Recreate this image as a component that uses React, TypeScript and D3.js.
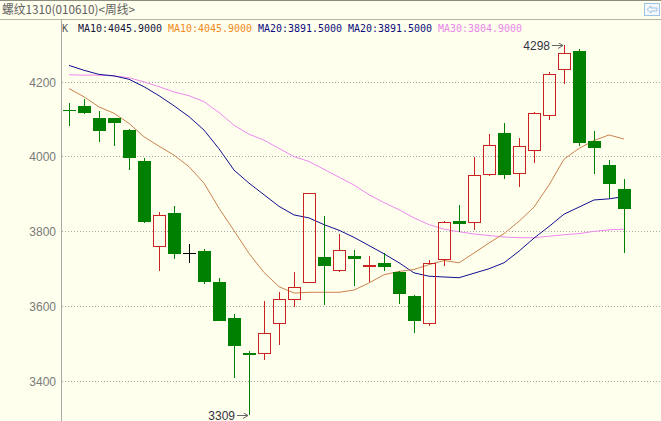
import React from "react";
import * as d3 from "d3";

const openV = [4123,4134,4102,4102,4070,3987,3757,3847,3741,3747,3664,3568,3473,3472,3552,3615,3661,3731,3693,3734,3703,3715,3691,3626,3552,3722,3827,3821,3949,4061,3952,4013,4109,4232,4281,4041,3977,3912];
const highV = [4143,4153,4121,4103,4073,3995,3851,3866,3766,3752,3673,3577,3480,3612,3636,3691,3901,3841,3793,3750,3734,3741,3693,3628,3723,3828,3870,3999,4059,4088,4048,4118,4225,4298,4288,4068,3990,3940];
const lowV = [4081,4112,4039,4027,3963,3822,3692,3725,3715,3657,3558,3408,3309,3455,3494,3597,3660,3602,3690,3652,3663,3692,3606,3528,3547,3707,3796,3804,3948,3938,3917,3981,4097,4192,4027,3952,3888,3741];
const closeV = [4122,4116,4068,4090,3994,3823,3843,3739,3741,3663,3559,3492,3467,3528,3619,3651,3901,3706,3750,3724,3709,3703,3632,3559,3715,3824,3818,3949,4029,3951,4027,4117,4221,4275,4036,4021,3927,3860];

const ma10 = [4181,4159,4132,4115,4088,4052,4027,4003,3972,3928,3861,3801,3740,3689,3651,3634,3636,3636,3636,3642,3661,3683,3692,3697,3710,3721,3715,3741,3768,3793,3826,3864,3923,3992,4021,4042,4057,4046];
const ma20 = [4243,4230,4219,4215,4206,4186,4162,4135,4106,4070,4020,3963,3928,3897,3866,3843,3835,3817,3802,3783,3761,3739,3715,3688,3679,3677,3675,3687,3699,3715,3746,3781,3812,3845,3864,3883,3886,3892];
const ma30 = [4218,4217,4217,4215,4210,4199,4186,4172,4162,4146,4117,4083,4059,4043,4021,3999,3986,3965,3944,3923,3897,3876,3857,3835,3817,3805,3798,3792,3788,3784,3782,3782,3786,3790,3793,3799,3803,3805];

const yTicks = [3400, 3600, 3800, 4000, 4200];

const titleText = "螺纹1310(010610)<周线>";
const legendItems = [
  { label: "MA10:4045.9000", color: "#14143c" },
  { label: "MA10:4045.9000", color: "#f08a1c" },
  { label: "MA20:3891.5000", color: "#0c0c80" },
  { label: "MA20:3891.5000", color: "#0c0c80" },
  { label: "MA30:3804.9000", color: "#e888e8" },
];

const W = 661;
const H = 421;
const RED = "#cc2222";
const GREEN = "#008000";

export default function App() {
  const x = d3.scaleLinear().domain([0, openV.length - 1]).range([69, 624]);
  const y = d3.scaleLinear().domain([3400, 4200]).range([380.5, 81.5]);
  const line = d3
    .line<number>()
    .x((_, i) => x(i))
    .y((v) => y(v));

  const maxIdx = d3.maxIndex(highV);
  const minIdx = d3.minIndex(lowV);

  const candles = openV.map((o, i) => {
    const c = closeV[i];
    const cx = Math.round(x(i));
    const top = Math.round(y(Math.max(o, c)));
    const bot = Math.round(y(Math.min(o, c)));
    const hy = Math.round(y(highV[i]));
    const ly = Math.round(y(lowV[i]));
    if (c > o) {
      return (
        <g key={i}>
          <line x1={cx + 0.5} x2={cx + 0.5} y1={hy} y2={top} stroke={RED} />
          <line x1={cx + 0.5} x2={cx + 0.5} y1={bot} y2={ly} stroke={RED} />
          <rect x={cx - 5.5} y={top + 0.5} width={12} height={Math.max(1, bot - top - 1)} fill="none" stroke={RED} />
        </g>
      );
    }
    const col = c < o ? GREEN : "#000000";
    return (
      <g key={i}>
        <line x1={cx + 0.5} x2={cx + 0.5} y1={hy} y2={ly} stroke={col} />
        <rect x={cx - 6} y={top} width={13} height={Math.max(1, bot - top)} fill={col} />
      </g>
    );
  });

  const hiX = Math.round(x(maxIdx));
  const hiY = Math.round(y(highV[maxIdx]));
  const loX = Math.round(x(minIdx));
  const loY = Math.round(y(lowV[minIdx]));

  return (
    <div style={{ position: "absolute", left: 0, top: 0 }}>
      <svg width={W} height={H} style={{ display: "block" }}>
        <defs>
          <marker id="arr" markerWidth="6" markerHeight="6" refX="5" refY="3" orient="auto" markerUnits="userSpaceOnUse">
            <path d="M0,0 L5,3 L0,6" fill="none" stroke="#666" />
          </marker>
          <clipPath id="plot">
            <rect x={62} y={20} width={W - 62} height={H - 20} />
          </clipPath>
        </defs>
        <rect x={0} y={0} width={W} height={H} fill="#ffffee" />
        <line x1={0} x2={W} y1={0.5} y2={0.5} stroke="#8c8c80" />
        <line x1={0} x2={W} y1={19.5} y2={19.5} stroke="#b4b4a4" />
        <text x={2} y={14} fontSize={12} fill="#606060" fontFamily="'Noto Sans CJK SC', sans-serif" textLength={133} lengthAdjust="spacingAndGlyphs">
          {titleText}
        </text>
        <g>
          <rect x={644.5} y={3.5} width={15} height={12} fill="#f4f8fc" stroke="#9cc4e4" />
          <path d="M647,9.5 L651,6 L651,8 L657,8 L657,11 L651,11 L651,13 Z" fill="none" stroke="#9cc4e4" />
        </g>
        <line x1={61.5} x2={61.5} y1={20} y2={H} stroke="#a8a8a8" />
        <text x={62} y={32} fontSize={11} fontFamily="'DejaVu Sans Mono', monospace" fill="#555" textLength={6} lengthAdjust="spacingAndGlyphs">K</text>
        {legendItems.map((it, i) => (
          <text
            key={i}
            x={78 + i * 90}
            y={32}
            fontSize={11}
            fontFamily="'DejaVu Sans Mono', monospace"
            fill={it.color}
            textLength={it.label.length * 6}
            lengthAdjust="spacingAndGlyphs"
          >
            {it.label}
          </text>
        ))}
        {yTicks.map((t) => {
          const yy = Math.round(y(t)) + 0.5;
          return (
            <g key={t}>
              <line x1={62} x2={W} y1={yy} y2={yy} stroke="#a8a8a8" strokeDasharray="1,2" />
              <text x={56} y={yy + 4} textAnchor="end" fontSize={12} fill="#7a7a7a" fontFamily="'Liberation Sans', Arial, sans-serif">
                {t}
              </text>
            </g>
          );
        })}
        <g clipPath="url(#plot)">
          <path d={line(ma30) || ""} fill="none" stroke="#ee88ee" strokeWidth={1} />
          <path d={line(ma20) || ""} fill="none" stroke="#101090" strokeWidth={1} />
          <path d={line(ma10) || ""} fill="none" stroke="#c8844e" strokeWidth={1} />
          {candles}
        </g>
        <text x={hiX - 14} y={hiY + 4.5} textAnchor="end" fontSize={12} fill="#333344" fontFamily="'Liberation Sans', Arial, sans-serif">
          {highV[maxIdx]}
        </text>
        <line x1={hiX - 12} x2={hiX - 1} y1={hiY + 0.5} y2={hiY + 0.5} stroke="#666" markerEnd="url(#arr)" />
        <text x={loX - 14} y={loY + 4.5} textAnchor="end" fontSize={12} fill="#333344" fontFamily="'Liberation Sans', Arial, sans-serif">
          {lowV[minIdx]}
        </text>
        <line x1={loX - 12} x2={loX - 1} y1={loY + 0.5} y2={loY + 0.5} stroke="#666" markerEnd="url(#arr)" />
      </svg>
    </div>
  );
}
